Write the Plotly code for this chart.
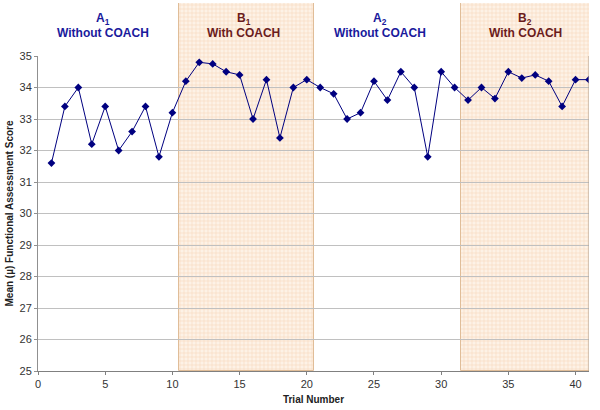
import plotly.graph_objects as go

trials = list(range(1, 42))
scores = [31.6, 33.4, 34.0, 32.2, 33.4, 32.0, 32.6, 33.4, 31.8, 33.2,
          34.2, 34.8, 34.75, 34.5, 34.4, 33.0, 34.25, 32.4, 34.0, 34.25,
          34.0, 33.8, 33.0, 33.2, 34.2, 33.6, 34.5, 34.0, 31.8, 34.5, 34.0,
          33.6, 34.0, 33.65, 34.5, 34.3, 34.4, 34.2, 33.4, 34.25, 34.25]

phase_start = [10.5, 31.5]
phase_end = [20.5, 41.5]

phase_letters = ["A<sub>1</sub>", "B<sub>1</sub>", "A<sub>2</sub>", "B<sub>2</sub>"]
phase_names = ["Without COACH", "With COACH", "Without COACH", "With COACH"]
phase_centers = [4.86, 15.3, 25.46, 36.26]
phase_colors = ["#1a1a9c", "#6b1c1c", "#1a1a9c", "#6b1c1c"]

W, H = 600, 410
mt, mb, ml, mr = 3, 39, 38, 11
ph = H - mt - mb
main_top = (H - mb - 56) / ph

fig = go.Figure()

# shaded phases (background subplot spanning up to the top of the figure)
fig.add_trace(go.Bar(
    x=[(a + b) / 2 for a, b in zip(phase_start, phase_end)],
    y=[1, 1],
    width=[b - a for a, b in zip(phase_start, phase_end)],
    marker=dict(color="#fcefe1",
                line=dict(color="#e0bd98", width=1),
                pattern=dict(shape="+", fgcolor="#f5d6b6", bgcolor="#fdf2e6",
                             size=4, solidity=0.25, fillmode="replace")),
    xaxis="x", yaxis="y", hoverinfo="skip", showlegend=False,
))

# data series
fig.add_trace(go.Scatter(
    x=trials, y=scores, mode="lines+markers",
    line=dict(color="#000080", width=1),
    marker=dict(symbol="diamond", size=6, color="#000080"),
    xaxis="x2", yaxis="y2", showlegend=False,
))

annotations = []
for letter, name, cx, col in zip(phase_letters, phase_names, phase_centers, phase_colors):
    annotations.append(dict(
        x=cx, y=(H - mb - 19) / ph,
        xref="x2", yref="paper", text="<b>" + letter + "</b>", showarrow=False,
        font=dict(family="Liberation Sans, Arial", size=12, color=col),
        xanchor="center", yanchor="middle"))
    annotations.append(dict(
        x=cx, y=(H - mb - 33.5) / ph,
        xref="x2", yref="paper", text="<b>" + name + "</b>", showarrow=False,
        font=dict(family="Liberation Sans, Arial", size=12, color=col),
        xanchor="center", yanchor="middle"))

fig.update_layout(
    width=W, height=H,
    margin=dict(t=mt, b=mb, l=ml, r=mr),
    paper_bgcolor="white", plot_bgcolor="rgba(0,0,0,0)",
    bargap=0,
    font=dict(family="Liberation Sans, Arial", size=11, color="#222"),
    xaxis=dict(range=[0, 41], domain=[0, 1], visible=False, fixedrange=True),
    yaxis=dict(range=[0, 1], domain=[0, 1], visible=False, fixedrange=True),
    xaxis2=dict(range=[0, 41], domain=[0, 1], anchor="y2", tick0=0, dtick=5,
                showgrid=False, zeroline=False, showline=True, linecolor="#808080",
                linewidth=1, ticks="outside", ticklen=3, tickcolor="#808080",
                automargin=False,
                title=dict(text="<b>Trial Number</b>", font=dict(size=10, color="#222"),
                           standoff=6),
                tickfont=dict(size=11, color="#333")),
    yaxis2=dict(range=[25, 35], domain=[0, main_top], anchor="x2", dtick=1,
                showgrid=True, gridcolor="#c0c0c0", gridwidth=1, zeroline=False,
                showline=True, linecolor="#909090", linewidth=1,
                ticks="outside", ticklen=3, tickcolor="#909090",
                automargin=False,
                title=dict(text="<b>Mean (µ) Functional Assessment Score</b>",
                           font=dict(size=10, color="#222"), standoff=4),
                tickfont=dict(size=11, color="#333")),
    annotations=annotations,
    shapes=[dict(type="line", xref="x2", yref="y2", x0=41, x1=41, y0=25, y1=35,
                 line=dict(color="#b0a090", width=1))],
)

fig.write_html("out.html", config={"displayModeBar": False},
               post_script="document.body.style.margin='0px';document.body.style.padding='0px';")
